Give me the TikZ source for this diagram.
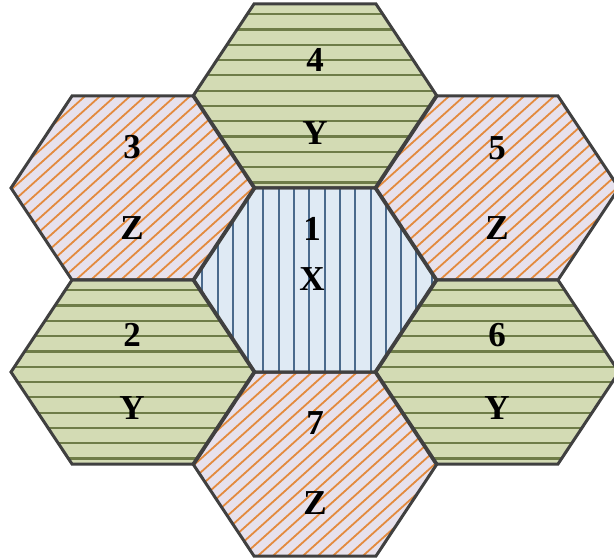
\documentclass[tikz,border=0pt]{standalone}
\usepackage{fontspec}
\setmainfont{Liberation Serif}
\definecolor{edgec}{HTML}{404040}
\definecolor{gfill}{HTML}{D3DBB4}
\definecolor{gline}{HTML}{6E7C48}
\definecolor{pfill}{HTML}{E7E1EC}
\definecolor{pline}{HTML}{E38A3E}
\definecolor{bfill}{HTML}{DFEAF4}
\definecolor{bline}{HTML}{4A6A8C}
\tikzset{
  hexborder/.style={draw=edgec,line width=3pt,line join=miter},
  lbl/.style={font=\fontsize{35}{35}\selectfont\bfseries,inner sep=0pt,text=black},
  gstripe/.style={draw=gline,line width=2.2pt},
  pstripe/.style={draw=pline,line width=1.8pt},
  bstripe/.style={draw=bline,line width=2pt},
}
\newcommand{\patg}{%
  \fill[gfill] (-130,-100) rectangle (130,100);
  \foreach \k in {-7,...,7} \draw[gstripe] (-130,{15.3*\k-5.3}) -- (130,{15.3*\k-5.3});}
\newcommand{\patp}{%
  \fill[pfill] (-130,-100) rectangle (130,100);
  \foreach \k in {-16,...,16} \draw[pstripe] ({15*\k-130},117) -- ({15*\k+130},-117);}
\newcommand{\patb}{%
  \fill[bfill] (-130,-100) rectangle (130,100);
  \foreach \k in {-9,...,9} \draw[bstripe] ({15.3*\k-5.7},-100) -- ({15.3*\k-5.7},100);}
\newcommand{\hexcell}[4]{%
  \begin{scope}[shift={(#2,#3)}]
    \coordinate (#1) at (0,0);
    \begin{scope}
      \clip (-122,0) -- (-61,-92) -- (61,-92) -- (122,0) -- (61,92) -- (-61,92) -- cycle;
      \csname pat#4\endcsname
    \end{scope}
  \end{scope}}
\newcommand{\hexedge}[1]{%
  \draw[hexborder,shift={(#1)}] (-122,0) -- (-61,-92) -- (61,-92) -- (122,0) -- (61,92) -- (-61,92) -- cycle;}
\begin{document}
\begin{tikzpicture}[x=1pt,y=-1pt]
\useasboundingbox (0,0) rectangle (614,559);
\hexcell{h1}{315}{280}{b}
\hexcell{h4}{315}{96}{g}
\hexcell{h7}{315}{464}{p}
\hexcell{h3}{133}{188}{p}
\hexcell{h5}{497}{188}{p}
\hexcell{h2}{133}{372}{g}
\hexcell{h6}{497}{372}{g}
\hexedge{h1}
\hexedge{h4}
\hexedge{h7}
\hexedge{h3}
\hexedge{h5}
\hexedge{h2}
\hexedge{h6}
\node[lbl] (n1) at (312,229) {1};
\node[lbl] (l1) at (312,279) {X};
\node[lbl] (n4) at (315,60) {4};
\node[lbl] (l4) at (315,133) {Y};
\node[lbl] (n3) at (132,147) {3};
\node[lbl] (l3) at (132,228) {Z};
\node[lbl] (n5) at (497,148) {5};
\node[lbl] (l5) at (497,228) {Z};
\node[lbl] (n2) at (132,335) {2};
\node[lbl] (l2) at (132,408) {Y};
\node[lbl] (n6) at (497,335) {6};
\node[lbl] (l6) at (497,408) {Y};
\node[lbl] (n7) at (315,423) {7};
\node[lbl] (l7) at (315,503) {Z};
\end{tikzpicture}
\end{document}
